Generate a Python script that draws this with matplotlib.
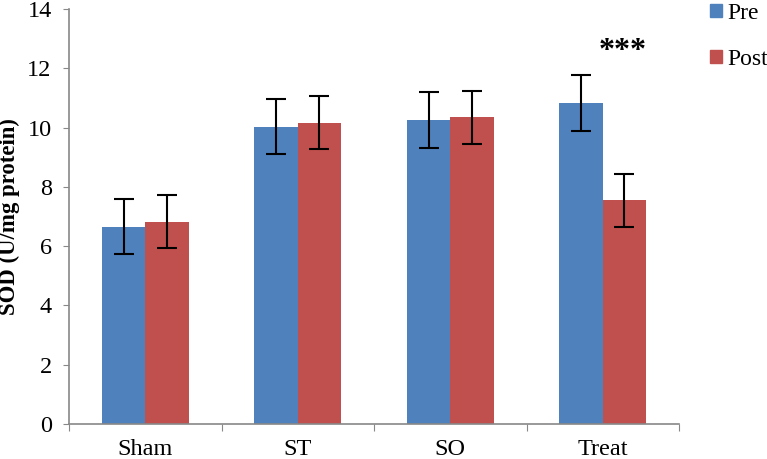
import matplotlib
matplotlib.use("Agg")
import matplotlib.pyplot as plt
from matplotlib.patches import Patch
import numpy as np

categories = ["Sham", "ST", "SO", "Treat"]
pre = [6.66, 10.03, 10.26, 10.82]
post = [6.83, 10.17, 10.35, 7.55]
pre_err = [0.94, 0.93, 0.94, 0.94]
post_err = [0.90, 0.90, 0.89, 0.89]
yticks = [0, 2, 4, 6, 8, 10, 12, 14]

plt.rcParams['font.family'] = ['Liberation Serif', 'DejaVu Serif']

fig = plt.figure(figsize=(7.67, 4.59), dpi=100)
ax = fig.add_axes([69/767, 1 - 424/459, (679 - 69)/767, (424 - 9)/459])

x = np.arange(len(categories))
w = 0.285
blue = "#4F81BD"
red = "#C0504D"
ax.bar(x - w/2, pre, w, color=blue, label="Pre", zorder=2)
ax.bar(x + w/2, post, w, color=red, label="Post", zorder=2)
ek = dict(ecolor="black", elinewidth=1.5, capsize=7, capthick=1.5, fmt="none", zorder=3)
ax.errorbar(x - w/2, pre, yerr=pre_err, **ek)
ax.errorbar(x + w/2, post, yerr=post_err, **ek)

ax.set_xlim(-0.5, len(categories) - 0.5)
ax.set_ylim(0, 14)
ax.set_yticks(yticks)
ax.set_yticklabels([str(v) for v in yticks], fontsize=17.5)
ax.set_xticks(np.arange(len(categories) + 1) - 0.5)
ax.set_xticklabels([])
ax.set_xticks(x, minor=True)
ax.set_xticklabels(categories, minor=True, fontsize=17.5)
ax.tick_params(axis='x', which='minor', length=0, pad=10.5)
ax.tick_params(axis='x', which='major', length=5, color="#888888", direction='out')
ax.tick_params(axis='y', length=4.5, color="#888888", direction='out', pad=8)

for s in ["top", "right"]:
    ax.spines[s].set_visible(False)
for s in ["left", "bottom"]:
    ax.spines[s].set_color("#888888")
    ax.spines[s].set_linewidth(1.2)

ax.set_ylabel("SOD (U/mg protein)", fontsize=16.4, fontweight="bold", labelpad=5)

ax.text(x[3] + w/2 - 0.01, 12.57, "***", ha="center", va="center", fontsize=23, fontweight="bold")

handles = [Patch(color=blue, label="Pre"), Patch(color=red, label="Post")]
fig.legend(handles=handles, loc="upper left", bbox_to_anchor=(710/767, 1 - 3/459), frameon=False,
           fontsize=17, handlelength=0.5, handleheight=0.5, handletextpad=0.25,
           labelspacing=1.05, borderpad=0, borderaxespad=0)

fig.savefig("out.png", dpi=100)
